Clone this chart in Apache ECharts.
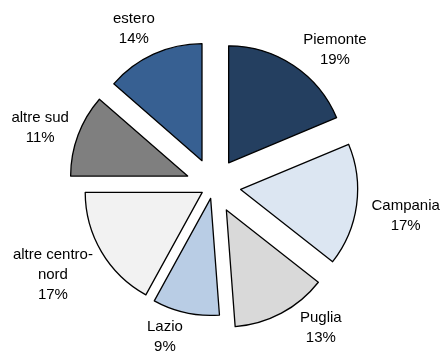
<!DOCTYPE html>
<html>
<head>
<meta charset="utf-8">
<script src="https://cdn.jsdelivr.net/npm/echarts@6/dist/echarts.min.js"></script>
<style>
html,body{margin:0;padding:0;background:#fff;}
#chart{width:442px;height:352px;}
</style>
</head>
<body>
<div id="chart"></div>
<script>
const categories = ['Piemonte', 'Campania', 'Puglia', 'Lazio', 'altre centro-nord', 'altre sud', 'estero'];
const values = [18.7, 16.9, 13.2, 9.2, 17.0, 11.4, 13.6];

// styling (not data)
const colors = {
  'Piemonte': '#243F60', 'Campania': '#DCE6F2', 'Puglia': '#D9D9D9', 'Lazio': '#B9CDE5',
  'altre centro-nord': '#F2F2F2', 'altre sud': '#7F7F7F', 'estero': '#376092'
};
const nearSlices = ['Lazio', 'altre centro-nord'];
const labelTweaks = {
  'Piemonte': {dist: 2, pad: [0, 0, 8, 0]},
  'Campania': {dist: 1, pad: [18, 0, 0, 0]},
  'Puglia': {dist: 12, pad: [4, 0, 0, 0]},
  'Lazio': {dist: 0, pad: [20, 0, 0, 0]},
  'altre centro-nord': {dist: -3.5, pad: [31, 0, 0, 0]},
  'altre sud': {dist: -4, pad: [0, 0, 4, 0]},
  'estero': {dist: -7, pad: [0, 0, 25, 0]}
};
const FONT = '"Liberation Sans", Arial, sans-serif';

function buildData(group) {
  return categories.map((name, i) => {
    const inGroup = group === 'near' ? nearSlices.includes(name) : !nearSlices.includes(name);
    if (!inGroup) {
      return {name, value: values[i], itemStyle: {color: 'rgba(0,0,0,0)', borderWidth: 0}, label: {show: false}};
    }
    const tw = labelTweaks[name];
    return {
      name, value: values[i], selected: true,
      itemStyle: {color: colors[name]},
      label: {distanceToLabelLine: tw.dist, padding: tw.pad}
    };
  });
}

function seriesFor(group, offset) {
  return {
    type: 'pie',
    center: [213.4, 185.7],
    radius: 117,
    startAngle: 90,
    clockwise: true,
    selectedMode: 'multiple',
    selectedOffset: offset,
    avoidLabelOverlap: false,
    silent: true,
    animation: false,
    itemStyle: {borderColor: '#000', borderWidth: 1.3},
    emphasis: {disabled: true},
    label: {
      show: true,
      position: 'outside',
      formatter: p => {
        const lines = p.name.replace('centro-', 'centro-\n').split('\n');
        lines.push(Math.round(p.percent) + '%');
        return lines.map(l => '{t|' + l + '}').join('\n');
      },
      rich: {t: {fontFamily: FONT, fontSize: 15, lineHeight: 20, color: '#000', align: 'center'}}
    },
    labelLine: {show: false, length: 14, length2: 0},
    data: buildData(group)
  };
}

const chart = echarts.init(document.getElementById('chart'), null, {renderer: 'canvas'});
chart.setOption({
  backgroundColor: '#fff',
  animation: false,
  series: [seriesFor('far', 27.5), seriesFor('near', 13)]
});
</script>
</body>
</html>
